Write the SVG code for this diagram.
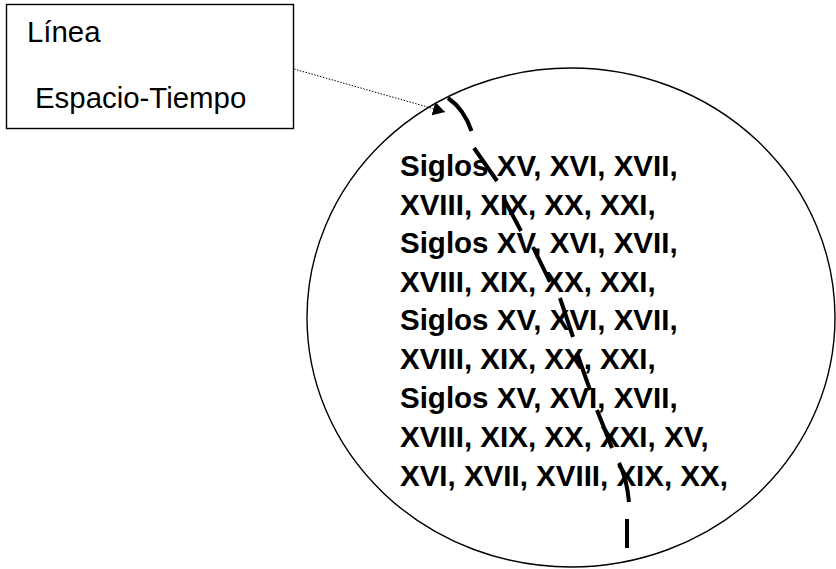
<svg xmlns="http://www.w3.org/2000/svg" width="836" height="569" viewBox="0 0 836 569">
<style>
.reg{font-family:"Liberation Sans",Arial,sans-serif;font-size:29.4px;fill:#000}
.bold{font-family:"Liberation Sans",Arial,sans-serif;font-size:29.5px;font-weight:bold;fill:#000}
.shape{fill:#fff;stroke:#000;stroke-width:1.4}
.dotted{fill:none;stroke:#000;stroke-width:1;stroke-dasharray:1.5 1.5}
.thick{fill:none;stroke:#000;stroke-width:4;stroke-linecap:butt}
</style>
<defs>
<marker id="arrow" markerUnits="userSpaceOnUse" markerWidth="14" markerHeight="16" viewBox="0 -8 14 16" refX="12" refY="0" orient="auto">
<path d="M0,-7 L12,0 L0,7 z" fill="#000"/>
</marker>
</defs>
<rect width="836" height="569" fill="#fff"/>
<g id="circle">
<ellipse class="shape" cx="571" cy="317.5" rx="264" ry="249.5"/>
<text class="bold" x="400" y="176">Siglos XV, XVI, XVII,</text>
<text class="bold" x="400" y="215">XVIII, XIX, XX, XXI,</text>
<text class="bold" x="400" y="253">Siglos XV, XVI, XVII,</text>
<text class="bold" x="400" y="292">XVIII, XIX, XX, XXI,</text>
<text class="bold" x="400" y="330">Siglos XV, XVI, XVII,</text>
<text class="bold" x="400" y="369">XVIII, XIX, XX, XXI,</text>
<text class="bold" x="400" y="408">Siglos XV, XVI, XVII,</text>
<text class="bold" x="400" y="447">XVIII, XIX, XX, XXI, XV,</text>
<text class="bold" x="400" y="486">XVI, XVII, XVIII, XIX, XX,</text>
</g>
<g id="label-box">
<rect class="shape" x="6.5" y="4.5" width="287" height="124"/>
<text class="reg" x="27" y="42">Línea</text>
<text class="reg" x="35" y="108">Espacio-Tiempo</text>
</g>
<g id="connectors">
<path class="dotted" d="M294,69 L445,112" marker-end="url(#arrow)"/>
<path class="thick" d="M448,98 Q464,109 471.5,131 M474,148 L497,181 M504,199 L521,231 M533,247 L550,282 M560,298 L573,337 M577,353 L590,390 M597,410 L612,448 M619,463 Q627,479 629,502 M627,519 L627,548"/>
</g>
</svg>
